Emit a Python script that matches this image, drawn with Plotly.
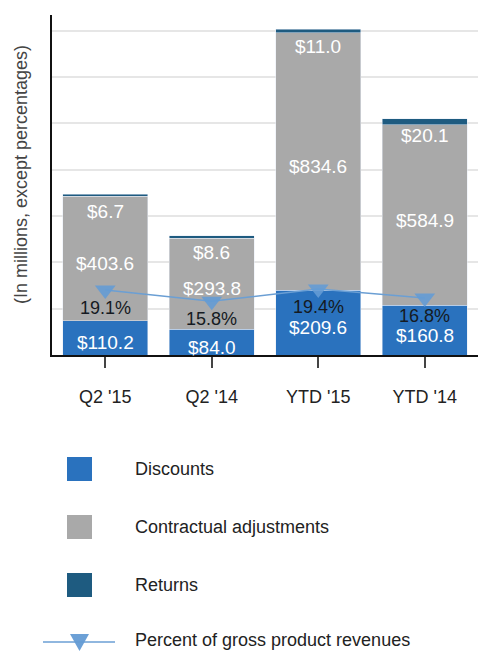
import plotly.graph_objects as go

categories = ["Q2 '15", "Q2 '14", "YTD '15", "YTD '14"]
discounts = [110.2, 84.0, 209.6, 160.8]
contractual = [403.6, 293.8, 834.6, 584.9]
returns = [6.7, 8.6, 11.0, 20.1]
percent = [19.1, 15.8, 19.4, 16.8]

legend_labels = ["Discounts", "Contractual adjustments", "Returns", "Percent of gross product revenues"]
y_title = "(In millions, except percentages)"

C_DISC = "#2a72be"
C_CONT = "#a9a9a9"
C_RET = "#1e5b80"
C_LINE = "#6b9fd4"
FONT = "Liberation Sans"

W, H = 478, 651
L, R, T, B = 52, 0, 15, 296
PW, PH = W - L - R, H - T - B


def px(x):
    return (x - L) / PW


def py(y):
    return (H - B - y) / PH


fig = go.Figure()
fig.add_trace(go.Bar(
    x=categories, y=discounts, name=legend_labels[0], marker_color=C_DISC,
    showlegend=False))
fig.add_trace(go.Bar(
    x=categories, y=contractual, name=legend_labels[1], marker_color=C_CONT,
    showlegend=False))
fig.add_trace(go.Bar(
    x=categories, y=returns, name=legend_labels[2], marker_color=C_RET,
    showlegend=False))
fig.add_trace(go.Scatter(
    x=categories, y=percent, name=legend_labels[3], yaxis="y2",
    mode="lines+markers",
    line=dict(color=C_LINE, width=1.5),
    marker=dict(symbol="triangle-down", size=18, color="rgba(100,155,212,0.9)"),
    showlegend=False))

annotations = []
# discount labels, slightly below the middle of each blue segment
for cat, d in zip(categories, discounts):
    annotations.append(dict(x=cat, y=d / 2, xref="x", yref="y", text=f"${d:.1f}",
                            showarrow=False, yshift=-5,
                            font=dict(color="white", size=19, family=FONT)))
# contractual labels, slightly below the middle of each grey segment
for cat, d, c in zip(categories, discounts, contractual):
    annotations.append(dict(x=cat, y=d + c / 2, xref="x", yref="y", text=f"${c:.1f}",
                            showarrow=False, yshift=-5,
                            font=dict(color="white", size=19, family=FONT)))
for cat, p in zip(categories, percent):
    annotations.append(dict(x=cat, y=p, xref="x", yref="y2", text=f"{p:.1f}%",
                            showarrow=False, yshift=-18,
                            font=dict(color="#151a22", size=18, family=FONT)))

totals = [d + c + r for d, c, r in zip(discounts, contractual, returns)]
for cat, tot, r in zip(categories, totals, returns):
    annotations.append(dict(x=cat, y=tot, xref="x", yref="y", text=f"${r:.1f}",
                            showarrow=False, yshift=-17,
                            font=dict(color="white", size=19, family=FONT)))

annotations.append(dict(x=px(21), y=py(175), xref="paper", yref="paper", text=y_title,
                        textangle=-90, showarrow=False, xanchor="center", yanchor="middle",
                        font=dict(size=18, color="#444", family=FONT)))

shapes = []
legend_rows = [469, 527, 585, 640]
colors = [C_DISC, C_CONT, C_RET]
for i in range(3):
    yc = legend_rows[i]
    shapes.append(dict(type="rect", xref="paper", yref="paper",
                       x0=px(67), x1=px(92), y0=py(yc - 12), y1=py(yc + 12),
                       fillcolor=colors[i], line=dict(width=0)))
yc = 642
shapes.append(dict(type="line", xref="paper", yref="paper",
                   x0=px(43), x1=px(115), y0=py(yc), y1=py(yc),
                   line=dict(color=C_LINE, width=1.5)))
shapes.append(dict(type="path", xref="paper", yref="paper",
                   path=f"M {px(70)},{py(634)} L {px(89)},{py(634)} L {px(79.5)},{py(651)} Z",
                   fillcolor="rgba(100,155,212,0.95)", line=dict(width=0)))
for i, lab in enumerate(legend_labels):
    annotations.append(dict(x=px(133), y=py(legend_rows[i]), xref="paper", yref="paper",
                            xanchor="left", yanchor="middle", text=lab, showarrow=False,
                            font=dict(color="#222", size=18, family=FONT)))

fig.update_layout(
    width=W, height=H, margin=dict(l=L, r=R, t=T, b=B),
    barmode="stack", bargap=0.2,
    plot_bgcolor="white", paper_bgcolor="white",
    font=dict(family=FONT, color="#333"),
    xaxis=dict(showline=True, linecolor="#111", linewidth=2, ticks="outside",
               ticklen=11, tickcolor="#444", tickwidth=1.5, ticklabelstandoff=13,
               tickfont=dict(size=18, color="#222"), showgrid=False),
    yaxis=dict(range=[0, 1101], dtick=150, showgrid=True, gridcolor="#e6e6e6",
               gridwidth=1.5, showticklabels=False, showline=True, linecolor="#111",
               linewidth=2, zeroline=False),
    yaxis2=dict(range=[0, 100], overlaying="y", side="right", visible=False),
    shapes=shapes, annotations=annotations, showlegend=False,
)

fig.write_html("out.html", config={"displayModeBar": False},
               post_script="document.body.style.margin='0px';")
